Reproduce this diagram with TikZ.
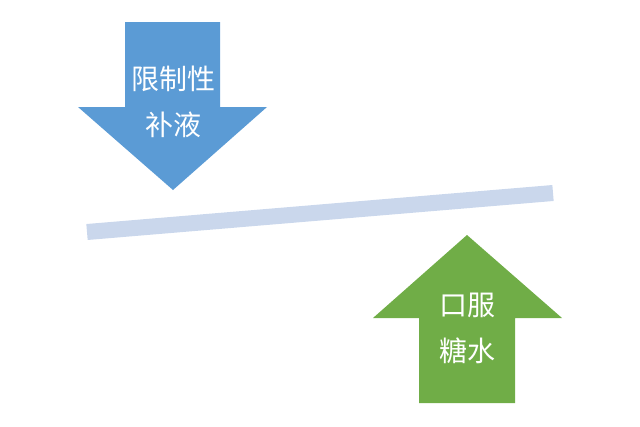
\documentclass[tikz,border=0pt]{standalone}
\usepackage{fontspec}
\newfontfamily\cjk{Noto Sans CJK SC}
\definecolor{downblue}{HTML}{5B9BD5}
\definecolor{upgreen}{HTML}{70AD47}
\definecolor{barblue}{HTML}{CAD7EC}
\begin{document}
\begin{tikzpicture}[x=1pt, y=-1pt,
    every node/.style={font=\cjk\fontsize{28}{46}\selectfont, text=white, align=center}]
  \useasboundingbox (0,0) rectangle (640,426);
  % tilted bar
  \draw[line width=16pt, barblue] (87,232) -- (553,193);
  % down arrow
  \fill[downblue] (125,22) -- (220,22) -- (220,107) -- (267,107)
    -- (173,190) -- (78,107) -- (125,107) -- cycle;
  \node (limit) at (173,102) {限制性\\补液};
  % up arrow
  \fill[upgreen] (419,403) -- (515,403) -- (515,318) -- (562,318)
    -- (467,235) -- (373,318) -- (419,318) -- cycle;
  \node (oral) at (467,328) {口服\\糖水};
\end{tikzpicture}
\end{document}
